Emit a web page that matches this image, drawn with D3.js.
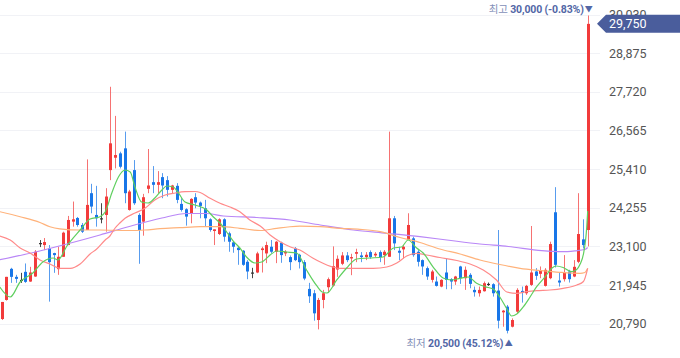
<!DOCTYPE html>
<html><head><meta charset="utf-8">
<script src="https://cdn.jsdelivr.net/npm/d3@7"></script>
<style>
body{margin:0;background:#fff;}
svg{display:block;font-family:Roboto,"Noto Sans","Noto Sans CJK KR",sans-serif;}
</style>
</head><body>
<svg id="c" width="680" height="358"></svg>
<script>
// ---- data ----
const opens = [20930,21500,22430,22190,22100,22340,22050,22200,23200,23140,
  23040,22900,22420,22790,23140,23840,23950,23740,23590,24690,
  24040,23940,24040,25380,25750,25880,26030,24190,25380,24040,
  23840,24820,25020,24940,25170,25080,24790,24910,24370,24210,
  24090,24570,24410,24240,23910,23560,23470,23910,23490,23220,
  23060,22970,22640,22320,22320,22990,22890,23090,22940,23210,
  22890,22780,23040,22850,22630,21830,21700,20900,21500,21880,
  21930,22410,22580,22830,22740,22880,22830,22780,22930,22830,
  22930,22840,22790,23940,22970,23010,23290,23340,22940,22690,
  22450,22100,22050,21900,22320,22120,22050,22500,22150,22250,
  21800,21700,21760,21980,21970,21780,21130,21300,20700,21150,
  21770,21700,21950,22350,22280,21920,22150,24120,22080,22120,
  22350,22200,22640,23310,23590];
const highs = [21440,22190,22460,22250,22310,22590,22490,22990,23290,23350,
  23140,22910,23090,23540,24010,24440,23980,23800,25700,24970,
  24910,24390,24840,27870,27000,25930,26530,24790,25680,24090,
  24670,26010,25500,25350,25290,25200,24940,24990,24540,24240,
  24540,24690,24440,24490,23940,23610,23940,23940,23540,23240,
  23090,22990,22690,22460,22940,23090,23240,23290,23260,23240,
  22990,22830,23080,22880,22690,22010,21800,21560,21800,22170,
  23100,22830,22930,22930,22880,23030,22930,22930,22980,22930,
  22980,22990,26530,24010,23090,23140,24090,23390,22990,22710,
  22500,22400,22200,22120,22740,22150,22220,22520,22500,22300,
  21900,21900,22050,22020,22000,23590,21200,21350,20950,21850,
  21900,21950,23710,22450,22500,22450,23240,24870,22320,22840,
  22400,22690,24690,23910,30000];
const lows = [20900,21480,22010,22010,22010,22010,22040,22190,23080,22990,
  21450,22310,22250,22790,23140,23690,23690,23500,23590,24090,
  23690,23790,23540,25080,25430,25430,24390,24170,24340,22580,
  23420,24690,24690,24690,24540,24590,24690,24390,24140,23720,
  23790,24240,23940,23690,23540,23140,23440,23240,22940,22910,
  22550,22520,22120,22150,22300,22320,22600,22890,22600,22610,
  22810,22390,22660,22440,22090,21410,20880,20620,21250,21720,
  21900,22190,22540,22630,22240,22630,22630,22690,22730,22780,
  22630,22550,22790,22990,22690,22740,23290,22790,22500,22250,
  22100,22020,21900,21880,21820,21820,21950,21980,21800,21850,
  21600,21600,21750,21920,21600,20650,20700,20500,20680,21100,
  21420,21650,21920,22100,22150,21900,22120,22470,21900,22050,
  22020,22180,22600,23040,23100];
const closes = [21440,22190,22190,22130,22100,22040,22320,22940,23200,23230,
  22630,22840,22790,23510,23890,23910,23740,23540,24340,24290,
  23940,23940,24590,26180,25830,25480,24690,24740,24390,23590,
  24570,24920,24940,25020,24920,24790,24920,24490,24190,23990,
  24520,24410,24310,23940,23590,23610,23910,23390,23240,23090,
  22990,22550,22350,22320,22890,23040,23140,22940,23240,22840,
  22940,22630,22690,22630,22140,21610,21100,21500,21700,22120,
  22510,22730,22830,22690,22780,22930,22780,22850,22780,22880,
  22780,22940,23940,23190,22910,23090,23740,22840,22640,22500,
  22200,22350,21920,22100,22100,22050,22200,22150,22400,21980,
  21730,21800,22000,21980,21700,20880,21180,20580,20900,21800,
  21720,21920,22320,22220,22380,22400,23170,22550,22020,22320,
  22120,22490,23470,23140,29750];

// moving-average lines, read as [candle index, price]
const ma5 = [[-0.4,21887],[1.8,21588],[3.9,22036],[6.6,22305],[8.7,22634],[10.9,22753],[11.9,22694],[13.8,23112],[16.6,23590],[18.7,23919],[20.8,23987],[21.9,24128],[23.3,24696],[24.7,25174],[26.1,25383],[27.2,25323],[28.2,24875],[29.6,24427],[31,24397],[32.4,24546],[33.9,24785],[34.9,24905],[36.3,24875],[37.4,24696],[38.8,24427],[40.9,24337],[43.4,24188],[44.8,23978],[46.2,23799],[47.6,23530],[49,23261],[50.4,23052],[51.8,22783],[53.6,22604],[55,22634],[56.8,22843],[58.2,22962],[60.3,22932],[62.4,22903],[64.5,22395],[66.7,21917],[67.8,21737],[68.8,21707],[70.9,22096],[73,22455],[75.1,22724],[77.9,22753],[80.7,22783],[82.9,23052],[84.6,23082],[86,23291],[87.8,23052],[89.2,22903],[91.3,22484],[93.4,22156],[95.2,22096],[97,22147],[98.7,22186],[100.5,21997],[102.3,21895],[104,21827],[105.4,21588],[106.9,21229],[107.9,21020],[109,21080],[110.4,21298],[111.8,21588],[113.2,21895],[115,22195],[116.4,22445],[117.3,22514],[118.8,22470],[120.6,22344],[121.3,22370],[122.4,22574],[123.1,22873],[123.8,23680],[124,24158]];
const ma20 = [[-0.4,23411],[1.8,23291],[3.9,23052],[6,22903],[8.1,22694],[10.2,22574],[12.3,22445],[14.5,22445],[16.6,22574],[18.7,22873],[20.1,23022],[21.9,23291],[22.9,23411],[24,23650],[25,23799],[26.1,23940],[28.2,24098],[30.3,24238],[32.4,24487],[34.6,24636],[36.7,24696],[38.8,24735],[40.9,24741],[42,24711],[44.1,24537],[46.2,24388],[48.3,24277],[50.4,24137],[52.5,23889],[54.7,23710],[56.8,23441],[58.9,23241],[61,23091],[63.1,22993],[65.9,22744],[68.8,22544],[71.6,22445],[75.8,22445],[78.6,22445],[81.5,22484],[83.6,22604],[85.7,22813],[87.8,22893],[89.9,22843],[92.7,22768],[96.3,22679],[99.1,22574],[101.9,22395],[104.7,22096],[106.9,21737],[109,21698],[111.1,21746],[113.2,21776],[116,21797],[118.8,21847],[121.7,21946],[123.1,22051],[124,22445]];
const ma60 = [[-0.4,24137],[3.9,23987],[8.1,23814],[10.2,23688],[12.3,23626],[16.6,23590],[20.8,23590],[26.7,23575],[30.3,23590],[33.5,23629],[37.7,23659],[42,23688],[46.2,23688],[50.4,23641],[54.7,23575],[58.2,23641],[61,23688],[63.1,23703],[67.4,23688],[71.6,23641],[75.8,23611],[80.1,23539],[84.3,23366],[88.5,23217],[92.7,23022],[97,22873],[101.2,22694],[105.4,22559],[109.7,22445],[113.9,22380],[118.1,22326],[122.4,22296],[123.4,22320],[124,22445]];
const ma120 = [[-0.4,22702],[6.7,22918],[13.8,23172],[20.8,23441],[26.8,23688],[33.9,23949],[39.1,24083],[43.4,24083],[46.9,24008],[54,23963],[61,23889],[67.4,23740],[74.4,23590],[81.5,23491],[88.5,23390],[94.2,23291],[101.2,23172],[107.2,23097],[114.3,22971],[118.5,22941],[121.3,22968],[123.4,23007],[124,23067]];

const yTicks = [20790,21945,23100,24255,25410,26565,27720,28875,30030];
const lastPrice = 29750;
const highLabel = {idx:124, price:30000, pct:"-0.83%"};
const lowLabel = {idx:107, price:20500, pct:"45.12%"};

// ---- drawing ----
const UP="#f23b3b", DOWN="#1876e8", FLAT="#333";
const svg = d3.select("#c");
const x = d3.scaleLinear().domain([0,124]).range([1.7,587.7]);
const y = d3.scaleLinear().domain([20790,30030]).range([323.7,14.5]);
const fmt = d3.format(",");

// grid
const grid = svg.append("g").call(d3.axisRight(y).tickValues(yTicks).tickSize(600).tickFormat(""));
grid.select(".domain").remove();
grid.selectAll(".tick line").attr("stroke","#f1f2f6").attr("shape-rendering","crispEdges");

svg.append("defs").append("clipPath").attr("id","pc")
  .append("rect").attr("x",0).attr("y",0).attr("width",596).attr("height",358);
const plot = svg.append("g").attr("clip-path","url(#pc)");

const data = opens.map((o,i)=>({i,o,h:highs[i],l:lows[i],c:closes[i]}));
const col = d => d.c>d.o?UP:(d.c<d.o?DOWN:FLAT);

const cg = plot.append("g");
cg.selectAll("line.w").data(data).join("line").attr("class","w")
  .attr("x1",d=>Math.round(x(d.i))+0.5).attr("x2",d=>Math.round(x(d.i))+0.5)
  .attr("y1",d=>y(d.h)).attr("y2",d=>y(d.l))
  .attr("stroke",col).attr("stroke-opacity",d=>d.o===d.c?0.9:0.72).attr("stroke-width",1);
cg.selectAll("rect.b").data(data).join("rect").attr("class","b")
  .attr("x",d=>Math.round(x(d.i))-1)
  .attr("width",3)
  .attr("y",d=>y(Math.max(d.o,d.c)))
  .attr("height",d=>Math.max(1.2,Math.abs(y(d.o)-y(d.c))))
  .attr("fill",col);

const line = d3.line().x(d=>x(d[0])).y(d=>y(d[1])).curve(d3.curveMonotoneX);
const lines = [[ma120,"#b987f7"],[ma60,"#ffb27a"],[ma20,"#ff8a8a"],[ma5,"#5fcf5f"]];
plot.selectAll("path.ma").data(lines).join("path").attr("class","ma")
  .attr("d",d=>line(d[0])).attr("fill","none").attr("stroke",d=>d[1]).attr("stroke-width",1.2);

// right axis labels
const ax = svg.append("g").attr("transform","translate(609,0)")
  .call(d3.axisRight(y).tickValues(yTicks).tickSize(0).tickPadding(0).tickFormat(fmt));
ax.select(".domain").remove();
ax.selectAll("text").attr("fill","#555").attr("font-size","12.5px").attr("font-family","Roboto,'Noto Sans',sans-serif");

// last price tag
const ty = y(lastPrice);
svg.append("path")
  .attr("d",`M597,${ty} L606,${ty-9} L680,${ty-9} L680,${ty+9} L606,${ty+9} Z`)
  .attr("fill","#4a5d9c");
svg.append("text").attr("x",609).attr("y",ty).attr("dy","0.35em")
  .attr("fill","#fff").attr("font-size","12.5px").text(fmt(lastPrice));

// high / low annotations
const hx = x(highLabel.idx);
const ht = svg.append("text").attr("x",hx-4).attr("y",9).attr("dy","0.35em")
  .attr("text-anchor","end").attr("font-size","10.5px").attr("letter-spacing","-0.15px");
ht.append("tspan").attr("fill","#8490b8").text("최고 ");
ht.append("tspan").attr("fill","#5267a6").attr("font-weight","bold").text(`${fmt(highLabel.price)} (${highLabel.pct})`);
svg.append("text").attr("x",hx+1).attr("y",9).attr("dy","0.35em").attr("text-anchor","middle")
  .attr("font-size","8px").attr("fill","#5267a6").text("▼");

const lx = x(lowLabel.idx);
const lt = svg.append("text").attr("x",lx-4).attr("y",343).attr("dy","0.35em")
  .attr("text-anchor","end").attr("font-size","10.5px").attr("letter-spacing","-0.15px");
lt.append("tspan").attr("fill","#8490b8").text("최저 ");
lt.append("tspan").attr("fill","#5267a6").attr("font-weight","bold").text(`${fmt(lowLabel.price)} (${lowLabel.pct})`);
svg.append("text").attr("x",lx+1.5).attr("y",343).attr("dy","0.35em").attr("text-anchor","middle")
  .attr("font-size","8px").attr("fill","#5267a6").text("▲");
</script>
</body></html>
